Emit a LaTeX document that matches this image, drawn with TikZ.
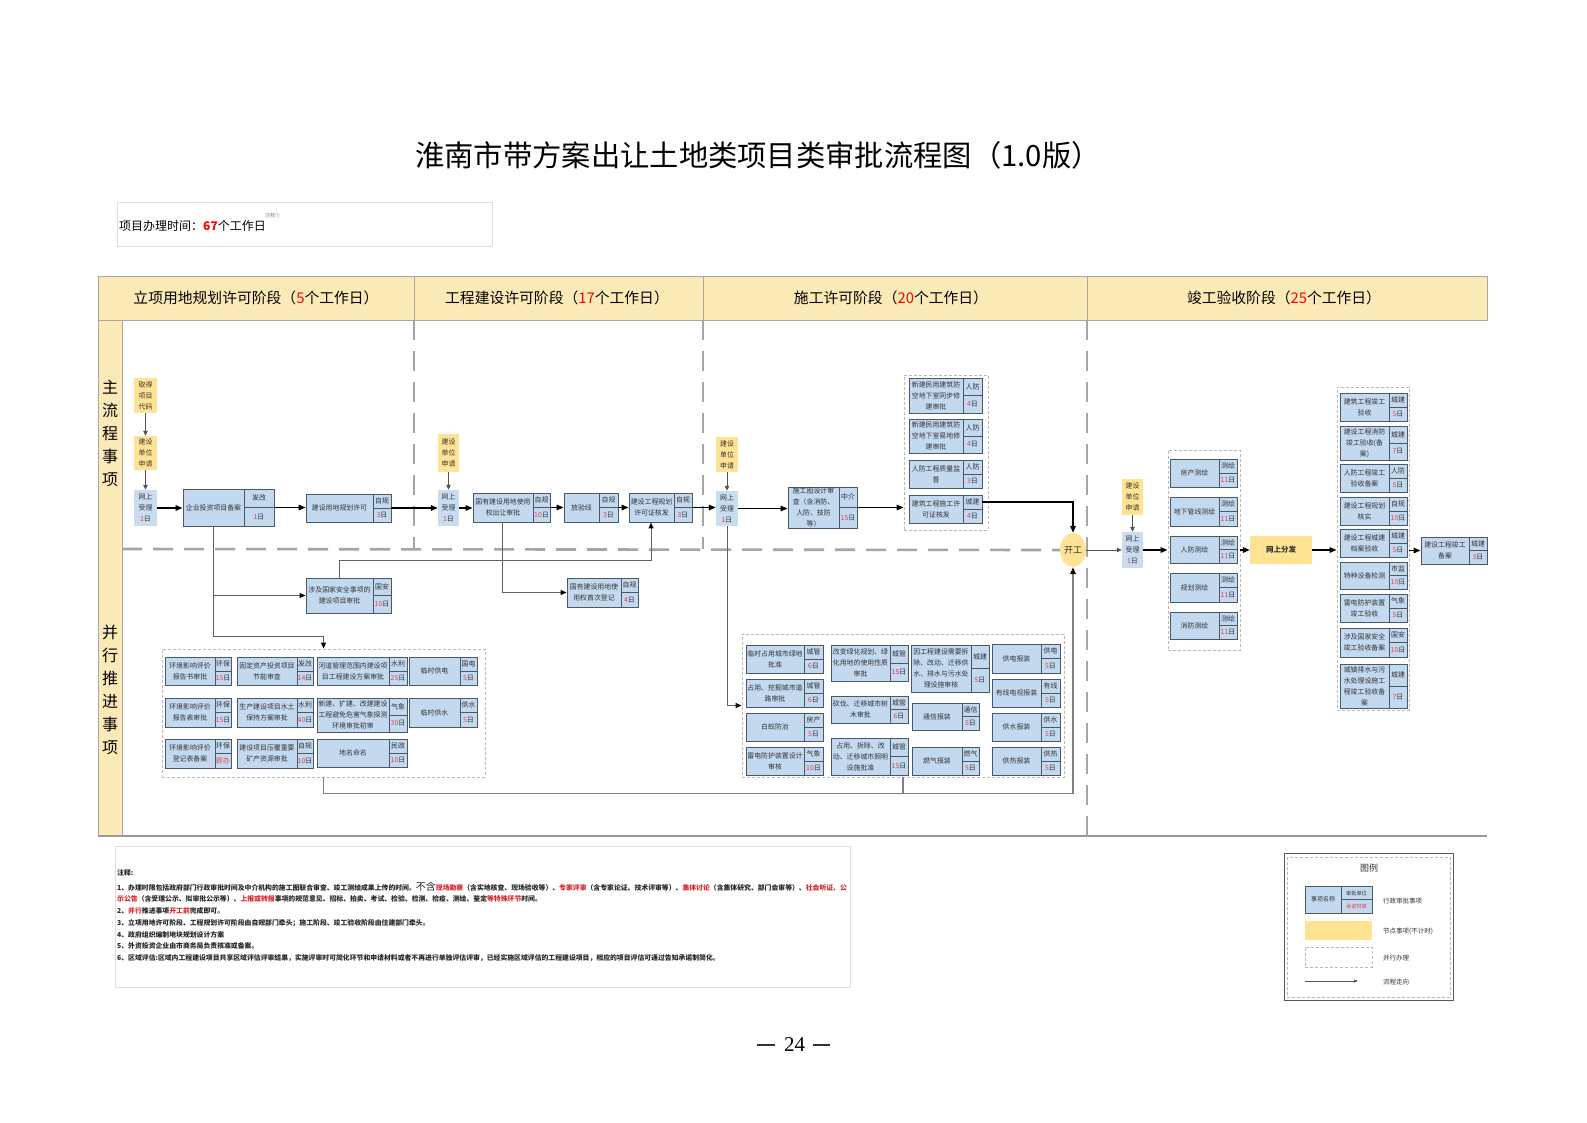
\documentclass[tikz,border=0pt]{standalone}
\usepackage{fontspec}
\setmainfont{Noto Sans CJK SC}
\newfontfamily\pgnumfont{Liberation Serif}
\usetikzlibrary{fit,arrows.meta,shapes.geometric}
\definecolor{boxfill}{HTML}{C3D9EF}
\definecolor{boxedge}{HTML}{4A5868}
\definecolor{recvfill}{HTML}{C9DDF1}
\definecolor{nodey}{HTML}{FFE394}
\definecolor{heady}{HTML}{FCEAB6}
\definecolor{dayred}{HTML}{E8404A}
\definecolor{nred}{HTML}{D9262B}
\definecolor{txt}{HTML}{333333}
\definecolor{dashgray}{HTML}{A5A5A5}
\newcommand\rd[1]{\textcolor{dayred}{#1}}
\newcommand\nr[1]{\textcolor{nred}{#1}}
\tikzset{
 abox/.style={draw=boxedge, fill=boxfill, line width=0.9pt, inner sep=0pt},
 sline/.style={draw=boxedge, line width=0.9pt},
 btxt/.style={font=\fontsize{6.9}{11}\selectfont, text=txt, align=center, inner sep=0pt},
 stxt/.style={font=\fontsize{6.9}{8}\selectfont, text=txt, inner sep=0pt},
 ntxt/.style={font=\fontsize{6.9}{11}\selectfont, text=txt, align=center, inner sep=0pt},
 ybox/.style={fill=nodey, inner sep=0pt},
 rbox/.style={fill=recvfill, inner sep=0pt},
 grp/.style={draw=gray!55, dash pattern=on 3pt off 2pt, line width=0.9pt, inner sep=0pt},
 flow/.style={-{Triangle[length=7pt,width=5.5pt]}, line width=1.5pt, black},
 gflow/.style={-{Triangle[length=5pt,width=4.5pt]}, line width=1pt, gray!65!black},
 pflow/.style={-{Triangle[length=6pt,width=5pt,black]}, line width=1pt, draw=gray!75!black},
 bflow/.style={-{Triangle[length=7pt,width=5.5pt,black]}, line width=1.6pt, draw=gray},
 bline/.style={line width=1.6pt, draw=gray},
 bigdash/.style={draw=dashgray, line width=2.6pt, dash pattern=on 20pt off 11pt},
 hdline/.style={draw=gray!70, line width=0.8pt},
 hd/.style={font=\fontsize{14.8}{14.8}\selectfont, text=black, inner sep=0pt},
 rowlbl/.style={font=\fontsize{16}{23}\selectfont, align=center, inner sep=0pt},
 nt/.style={font=\fontsize{6.85}{7}\selectfont\bfseries, text=black!85, anchor=west, inner sep=0pt},
 lgt/.style={font=\fontsize{6.5}{7}\selectfont, text=txt, anchor=west, inner sep=0pt},
}
% id x1 y1 x2 y2 xs name unit days
\newcommand\apbox[9]{%
 \node[abox, fit={(#2,#3) (#4,#5)}] (#1) {};
 \draw[sline] (#6,#3) -- (#6,#5) (#6,{(#3+#5)/2}) -- (#4,{(#3+#5)/2});
 \node[btxt] at ({(#2+#6)/2},{(#3+#5)/2}) {#7};
 \node[stxt] at ({(#6+#4)/2},{(3*#3+#5)/4}) {#8};
 \node[stxt] at ({(#6+#4)/2},{(#3+3*#5)/4}) {#9};
}
% style id x1 y1 x2 y2 text
\newcommand\stagenode[7]{%
 \node[#1, fit={(#3,#4) (#5,#6)}] (#2) {};
 \node[ntxt] at (#2.center) {#7};
}
\begin{document}
\begin{tikzpicture}[x=1pt,y=-1pt]
\useasboundingbox[fill=white] (0,0) rectangle (1587,1122);

% title
\node[font=\fontsize{29.3}{29.3}\selectfont, inner sep=0pt] (title) at (758,155) {淮南市带方案出让土地类项目类审批流程图（1.0版）};

% time box
\draw[gray!25, line width=0.8pt] (117,202) rectangle (492,246);
\node[anchor=west, font=\fontsize{12}{12}\selectfont, inner sep=0pt] (time) at (119,226) {项目办理时间：\textcolor{red}{\textbf{67}}个工作日};
\node[anchor=west, font=\fontsize{5}{5}\selectfont, text=gray, inner sep=0pt] (timenote) at (265,216) {注释①};

% header and frame
\draw[hdline, fill=heady] (98,276) rectangle (1487,320);
\draw[hdline] (414,276)--(414,320) (703,276)--(703,320) (1087,276)--(1087,320);
\draw[hdline, fill=heady] (98,320) rectangle (122,836);
\draw[line width=1.8pt, gray!80] (98,836) -- (1487,836);
\node[hd] (h1) at (256,298) {立项用地规划许可阶段（\textcolor{red}{5}个工作日）};
\node[hd] (h2) at (557,298) {工程建设许可阶段（\textcolor{red}{17}个工作日）};
\node[hd] (h3) at (891,298) {施工许可阶段（\textcolor{red}{20}个工作日）};
\node[hd] (h4) at (1284,298) {竣工验收阶段（\textcolor{red}{25}个工作日）};
\node[rowlbl] (r1) at (110,433) {主\\流\\程\\事\\项};
\node[rowlbl] (r2) at (110,690) {并\\行\\推\\进\\事\\项};

% kaigong
\node[ellipse, fill=nodey, minimum width=26pt, minimum height=34pt, inner sep=0pt, font=\fontsize{9}{9}\selectfont, text=txt] (kg) at (1073,550) {开工};

% big dashed dividers
\draw[bigdash] (414,320) -- (414,549);
\draw[bigdash] (703,320) -- (703,549);
\draw[bigdash] (1087,320) -- (1087,836);
\draw[bigdash] (122,549) -- (kg.west);

% groups
\node[grp, fit={(904,375) (988,530)}] (g3) {};
\node[grp, fit={(1168,450) (1240,650)}] (gm) {};
\node[grp, fit={(1337,387) (1409,710)}] (gy) {};
\node[grp, fit={(162,649) (485,777)}] (g1) {};
\node[grp, fit={(742,634) (1064,777)}] (g3p) {};

% stage 1
\stagenode{ybox}{code}{134}{378}{157}{413}{取得\\项目\\代码}
\stagenode{ybox}{ap1}{134}{436}{157}{470}{建设\\单位\\申请}
\stagenode{rbox}{rc1}{134}{490}{157}{526}{网上\\受理\\\rd{1}日}
\apbox{qiye}{183}{489}{274}{526}{244}{企业投资项目备案}{发改}{\rd{1}日}
\apbox{ydgh}{306}{494}{391}{522}{373}{建设用地规划许可}{自规}{\rd{3}日}
\apbox{gjaq}{306}{578}{391}{613}{373}{涉及国家安全事项的\\建设项目审批}{国安}{\rd{10}日}

% stage 2
\stagenode{ybox}{ap2}{438}{434}{459}{472}{建设\\单位\\申请}
\stagenode{rbox}{rc2}{438}{490}{459}{526}{网上\\受理\\\rd{1}日}
\apbox{crsp}{473}{493}{550}{522}{533}{国有建设用地使用\\权出让审批}{自规}{\rd{10}日}
\apbox{fyx}{564}{493}{618}{522}{599}{放验线}{自规}{\rd{3}日}
\apbox{ghxk}{629}{493}{692}{522}{674}{建设工程规划\\许可证核发}{自规}{\rd{3}日}
\apbox{scdj}{567}{578}{638}{607}{621}{国有建设用地使\\用权首次登记}{自规}{\rd{4}日}

% stage 3
\stagenode{ybox}{ap3}{716}{437}{738}{472}{建设\\单位\\申请}
\stagenode{rbox}{rc3}{716}{491}{738}{526}{网上\\受理\\\rd{1}日}
\apbox{sgt}{788}{487}{857}{528}{839}{施工图设计审\\查（含消防、\\人防、技防\\等）}{中介}{\rd{15}日}
\apbox{rf1}{909}{378}{982}{413}{963}{新建民用建筑防\\空地下室同步修\\建审批}{人防}{\rd{4}日}
\apbox{rf2}{909}{419}{982}{453}{963}{新建民用建筑防\\空地下室易地修\\建审批}{人防}{\rd{4}日}
\apbox{rf3}{909}{460}{982}{488}{963}{人防工程质量监\\督}{人防}{\rd{3}日}
\apbox{sgxk}{909}{495}{982}{523}{963}{建筑工程施工许\\可证核发}{城建}{\rd{4}日}

% stage 4
\stagenode{ybox}{ap4}{1122}{479}{1143}{515}{建设\\单位\\申请}
\stagenode{rbox}{rc4}{1122}{532}{1143}{568}{网上\\受理\\\rd{1}日}
\apbox{ch1}{1170}{459}{1237}{487}{1219}{房产测绘}{测绘}{\rd{11}日}
\apbox{ch2}{1170}{497}{1237}{526}{1219}{地下管线测绘}{测绘}{\rd{11}日}
\apbox{ch3}{1170}{536}{1237}{563}{1219}{人防测绘}{测绘}{\rd{11}日}
\apbox{ch4}{1170}{573}{1237}{602}{1219}{规划测绘}{测绘}{\rd{11}日}
\apbox{ch5}{1170}{612}{1237}{639}{1219}{消防测绘}{测绘}{\rd{11}日}
\stagenode{ybox}{wsff}{1250}{536}{1312}{564}{\fontsize{7.5}{8}\selectfont\textbf{网上分发}}
\apbox{ys1}{1340}{393}{1407}{421}{1389}{建筑工程竣工\\验收}{城建}{\rd{5}日}
\apbox{ys2}{1340}{426}{1407}{460}{1389}{建设工程消防\\竣工验收(备\\案)}{城建}{\rd{7}日}
\apbox{ys3}{1340}{464}{1407}{492}{1389}{人防工程竣工\\验收备案}{人防}{\rd{5}日}
\apbox{ys4}{1340}{497}{1407}{525}{1389}{建设工程规划\\核实}{自规}{\rd{10}日}
\apbox{ys5}{1340}{529}{1407}{557}{1389}{建设工程城建\\档案验收}{城建}{\rd{5}日}
\apbox{ys6}{1340}{562}{1407}{589}{1389}{特种设备检测}{市监}{\rd{10}日}
\apbox{ys7}{1340}{594}{1407}{622}{1389}{雷电防护装置\\竣工验收}{气象}{\rd{5}日}
\apbox{ys8}{1340}{628}{1407}{657}{1389}{涉及国家安全\\竣工验收备案}{国安}{\rd{10}日}
\apbox{ys9}{1340}{664}{1407}{708}{1389}{城镇排水与污\\水处理设施工\\程竣工验收备\\案}{城建}{\rd{7}日}
\apbox{jgba}{1421}{537}{1487}{564}{1469}{建设工程竣工\\备案}{城建}{\rd{3}日}

% parallel group 1
\apbox{p11}{165}{657}{231}{685}{215}{环境影响评价\\报告书审批}{环保}{\rd{15}日}
\apbox{p12}{237}{657}{313}{685}{297}{固定资产投资项目\\节能审查}{发改}{\rd{14}日}
\apbox{p13}{317}{657}{407}{685}{389}{河道管理范围内建设项\\目工程建设方案审批}{水利}{\rd{25}日}
\apbox{p14}{409}{657}{477}{685}{460}{临时供电}{国电}{\rd{5}日}
\apbox{p21}{165}{698}{231}{727}{215}{环境影响评价\\报告表审批}{环保}{\rd{15}日}
\apbox{p22}{237}{698}{313}{727}{297}{生产建设项目水土\\保持方案审批}{水利}{\rd{40}日}
\apbox{p23}{317}{698}{407}{732}{389}{新建、扩建、改建建设\\工程避免危害气象探测\\环境审批初审}{气象}{\rd{30}日}
\apbox{p24}{409}{698}{477}{727}{460}{临时供水}{供水}{\rd{5}日}
\apbox{p31}{165}{739}{231}{768}{215}{环境影响评价\\登记表备案}{环保}{\rd{即办}}
\apbox{p32}{237}{739}{313}{768}{297}{建设项目压覆重要\\矿产资源审批}{自规}{\rd{10}日}
\apbox{p33}{317}{739}{407}{767}{389}{地名命名}{民政}{\rd{10}日}

% parallel group 3
\apbox{q11}{746}{645}{823}{673}{804}{临时占用城市绿地\\批准}{城管}{\rd{6}日}
\apbox{q12}{746}{679}{823}{707}{804}{占用、挖掘城市道\\路审批}{城管}{\rd{6}日}
\apbox{q13}{746}{713}{823}{741}{804}{白蚁防治}{房产}{\rd{5}日}
\apbox{q14}{746}{747}{823}{775}{804}{雷电防护装置设计\\审核}{气象}{\rd{10}日}
\apbox{q21}{831}{645}{908}{681}{890}{改变绿化规划、绿\\化用地的使用性质\\审批}{城管}{\rd{15}日}
\apbox{q22}{831}{696}{908}{723}{890}{砍伐、迁移城市树\\木审批}{城管}{\rd{6}日}
\apbox{q23}{831}{738}{908}{775}{890}{占用、拆除、改\\动、迁移城市照明\\设施批准}{城管}{\rd{15}日}
\apbox{q31}{911}{645}{989}{692}{971}{因工程建设需要拆\\除、改动、迁移供\\水、排水与污水处\\理设施审核}{城建}{\rd{5}日}
\apbox{q32}{912}{703}{979}{730}{962}{通信报装}{通信}{\rd{5}日}
\apbox{q33}{912}{747}{979}{775}{962}{燃气报装}{燃气}{\rd{5}日}
\apbox{q41}{992}{644}{1060}{673}{1041}{供电报装}{供电}{\rd{5}日}
\apbox{q42}{992}{679}{1060}{707}{1041}{有线电视报装}{有线}{\rd{5}日}
\apbox{q43}{992}{713}{1060}{741}{1041}{供水报装}{供水}{\rd{5}日}
\apbox{q44}{992}{747}{1060}{775}{1041}{供热报装}{供热}{\rd{5}日}

% main flow connectors
\draw[gflow] (code) -- (ap1);
\draw[gflow] (ap1) -- (rc1);
\draw[flow] (rc1.east) -- (rc1.east -| qiye.west);
\draw[flow] (qiye.east) -- (qiye.east -| ydgh.west);
\draw[flow] (ydgh.east) -- (ydgh.east -| rc2.west);
\draw[gflow] (ap2) -- (rc2);
\draw[flow] (rc2.east) -- (rc2.east -| crsp.west);
\draw[flow] (crsp.east) -- (crsp.east -| fyx.west);
\draw[flow] (fyx.east) -- (fyx.east -| ghxk.west);
\draw[flow] (ghxk.east) -- (ghxk.east -| rc3.west);
\draw[gflow] (ap3) -- (rc3);
\draw[flow] (rc3.east) -- (rc3.east -| sgt.west);
\draw[flow] (sgt.east) -- (sgt.east -| g3.west);
\draw[flow] ([yshift=7pt]sgxk.east) -| (kg.north);
\draw[gflow] (kg.east) -- (kg.east -| rc4.west);
\draw[gflow] (ap4) -- (rc4);
\draw[flow] (rc4.east) -- (rc4.east -| gm.west);
\draw[flow] (gm.east) -- (gm.east -| wsff.west);
\draw[flow] (wsff.east) -- (wsff.east -| gy.west);
\draw[flow] (gy.east |- jgba.west) -- (jgba.west);

% parallel connectors
\coordinate (qv) at ([xshift=31pt]qiye.south west);
\draw[pflow] (qv) |- ([yshift=12pt]g1.north) -- (g1.north);
\draw[pflow] (qv |- gjaq.west) -- (gjaq.west);
\coordinate (gq) at ([xshift=34pt]gjaq.north west);
\coordinate (gh) at ([xshift=22.5pt]ghxk.south west);
\draw[pflow] (gq) -- ++(0,-17) -| (gh);
\coordinate (cr) at ([xshift=30pt]crsp.south west);
\draw[pflow] (cr) |- (scdj.west);
\draw[pflow] (rc3.south) |- (g3p.west);
\draw[bflow] (g1.south) -- ++(0,16) -| (kg.south);
\draw[bline] (g3p.south) -- ++(0,16);

% notes
\draw[gray!25, line width=0.8pt] (115,846) rectangle (850,987);
\node[nt] (n0) at (117,873) {注释:};
\node[nt] (n1) at (117,887) {1、办理时限包括政府部门行政审批时间及中介机构的施工图联合审查、竣工测绘成果上传的时间。{\fontsize{10}{10}\selectfont\mdseries 不含}\nr{现场勘察}（含实地核查、现场验收等）、\nr{专家评审}（含专家论证、技术评审等）、\nr{集体讨论}（含集体研究、部门会审等）、\nr{社会听证、公}};
\node[nt] (n1b) at (117,899) {\nr{示公告}（含受理公示、拟审批公示等）、\nr{上报或转报}事项的规范意见、招标、拍卖、考试、检验、检测、检疫、测绘、鉴定\nr{等特殊环节}时间。};
\node[nt] (n2) at (117,911) {2、\nr{并行}推进事项\nr{开工前}完成即可。};
\node[nt] (n3) at (117,923) {3、立项用地许可阶段、工程规划许可阶段由自规部门牵头；施工阶段、竣工验收阶段由住建部门牵头。};
\node[nt] (n4) at (117,935) {4、政府组织编制地块规划设计方案};
\node[nt] (n5) at (117,946) {5、外资投资企业由市商务局负责核准或备案。};
\node[nt] (n6) at (117,958) {6、区域评估:区域内工程建设项目共享区域评估评审结果，实施评审时可简化环节和申请材料或者不再进行单独评估评审，已经实施区域评估的工程建设项目，相应的项目评估可通过告知承诺制简化。};

% legend
\draw[gray!70!black, line width=1pt] (1284,853) rectangle (1453,1000);
\draw[grp] (1287,857) rectangle (1450,997);
\node[font=\fontsize{9}{9}\selectfont, text=txt, inner sep=0pt] (lgtitle) at (1369,868) {图例};
\node[abox, fit={(1305,886) (1372,913)}] (lg1) {};
\draw[sline] (1341,886) -- (1341,913) (1341,899.5) -- (1372,899.5);
\node[font=\fontsize{6}{6}\selectfont, text=txt, inner sep=0pt] (lg1a) at (1323,899.5) {事项名称};
\node[font=\fontsize{5.2}{5.2}\selectfont, text=txt, inner sep=0pt] (lg1b) at (1356.5,893) {审批单位};
\node[font=\fontsize{5.2}{5.2}\selectfont, text=dayred, inner sep=0pt] (lg1c) at (1356.5,906.5) {承诺时限};
\node[ybox, fit={(1305,921) (1372,940)}] (lg2) {};
\node[grp, fit={(1305,947) (1372,967)}] (lg3) {};
\coordinate (la) at (1305,981);
\draw[gflow, -{Triangle[length=4pt,width=3pt]}, line width=0.7pt] (la) -- ++(53,0);
\node[lgt] (lt1) at (1383,901) {行政审批事项};
\node[lgt] (lt2) at (1383,931) {节点事项(不计时)};
\node[lgt] (lt3) at (1383,958) {并行办理};
\node[lgt] (lt4) at (1383,982) {流程走向};

% page number
\node[font=\pgnumfont\fontsize{21}{21}\selectfont, inner sep=0pt] (pg) at (794.5,1044.5) {24};
\draw[line width=1.3pt, black!80] (757,1045) -- (775,1045) (813,1045) -- (830,1045);
\end{tikzpicture}
\end{document}
